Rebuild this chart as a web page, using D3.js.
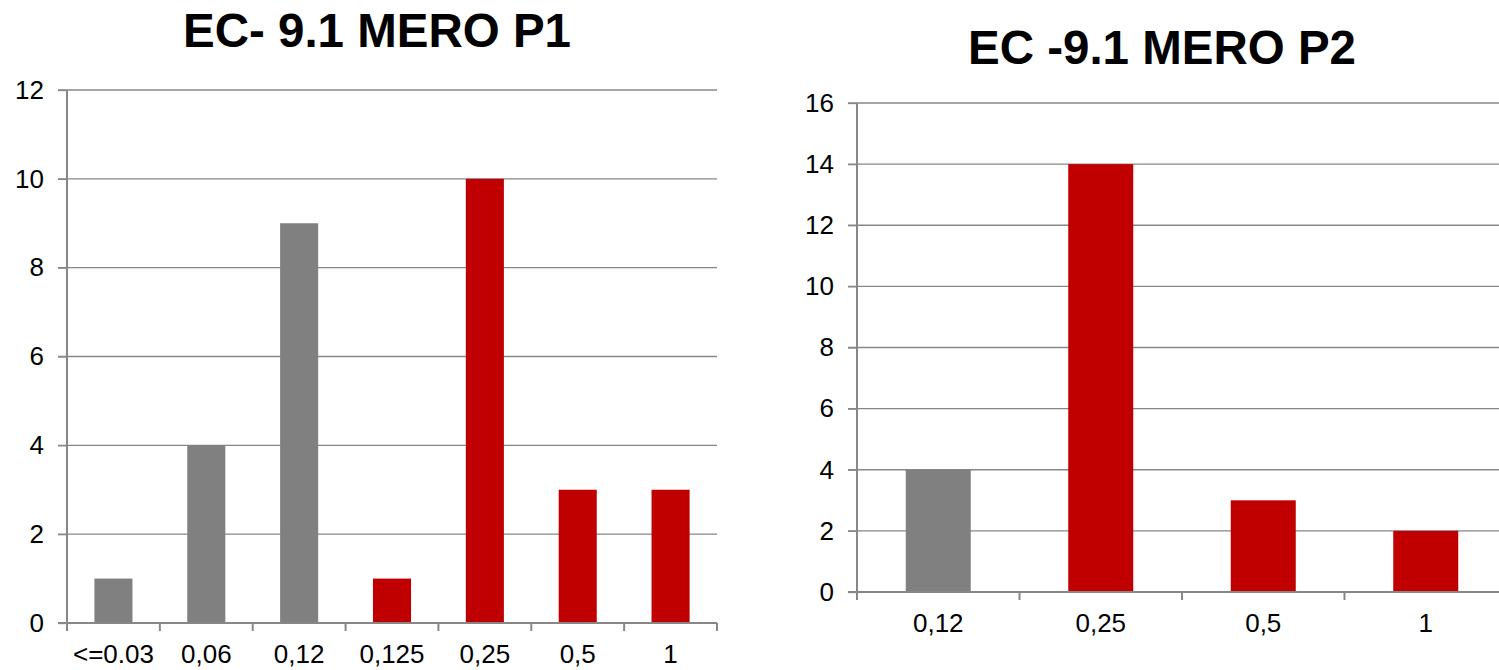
<!DOCTYPE html>
<html><head><meta charset="utf-8">
<script src="https://cdn.jsdelivr.net/npm/d3@7"></script>
<style>html,body{margin:0;padding:0;background:#fff;}svg{display:block;}</style>
</head><body>
<svg id="chart" width="1499" height="670"></svg>
<script>
// Chart 1 data
const title1 = "EC- 9.1 MERO P1";
const categories1 = ["<=0.03", "0,06", "0,12", "0,125", "0,25", "0,5", "1"];
const values1 = [1, 4, 9, 1, 10, 3, 3];
const groups1 = ["low", "low", "low", "high", "high", "high", "high"];
const yTicks1 = [0, 2, 4, 6, 8, 10, 12];

// Chart 2 data
const title2 = "EC -9.1 MERO P2";
const categories2 = ["0,12", "0,25", "0,5", "1"];
const values2 = [4, 14, 3, 2];
const groups2 = ["low", "high", "high", "high"];
const yTicks2 = [0, 2, 4, 6, 8, 10, 12, 14, 16];

const colorMap = {low: "#808080", high: "#C00000"};
const gridColor = "#878787";
const font = "Arial, 'Liberation Sans', sans-serif";
const labelSize = 26;

const svg = d3.select("#chart");

function drawChart(cfg) {
  const {x0, x1, y0, y1, cats, vals, groups, ticks, title, titleX, titleY, pad} = cfg;
  const g = svg.append("g");
  const x = d3.scaleBand().domain(cats).range([x0, x1]).paddingInner(pad).paddingOuter(pad / 2);
  const y = d3.scaleLinear().domain([0, d3.max(ticks)]).range([y1, y0]);

  // grid lines
  g.selectAll("line.grid").data(ticks.filter(t => t > 0)).enter().append("line")
    .attr("x1", x0 - 9).attr("x2", x1).attr("y1", d => y(d)).attr("y2", d => y(d))
    .attr("stroke", gridColor).attr("stroke-width", 1.3);

  // y axis
  const yAxis = d3.axisLeft(y).tickValues(ticks).tickSize(9).tickPadding(14).tickFormat(d3.format("d"));
  const ya = g.append("g").attr("transform", `translate(${x0},0)`).call(yAxis);
  ya.attr("font-size", null).attr("font-family", null);
  ya.select(".domain").attr("stroke", gridColor).attr("stroke-width", 2).attr("d", `M0,${y1}V${y0}`);
  ya.selectAll(".tick line").attr("stroke", gridColor).attr("stroke-width", 1.3);
  ya.selectAll(".tick text").attr("font-family", font).attr("font-size", labelSize).attr("fill", "#000");

  // bars
  g.selectAll("rect.bar").data(vals).enter().append("rect")
    .attr("x", (d, i) => x(cats[i])).attr("width", x.bandwidth())
    .attr("y", d => y(d)).attr("height", d => y(0) - y(d))
    .attr("fill", (d, i) => colorMap[groups[i]]);

  // x axis
  const xa = g.append("g").attr("transform", `translate(0,${y1})`)
    .call(d3.axisBottom(x).tickSize(0).tickPadding(0));
  xa.attr("font-size", null).attr("font-family", null);
  xa.select(".domain").remove();
  xa.append("line").attr("x1", x0 - 9).attr("x2", x1).attr("y1", 0).attr("y2", 0)
    .attr("stroke", gridColor).attr("stroke-width", 2);
  const bounds = cats.map(c => x(c) - x.step() * pad / 2).concat([x1]);
  xa.selectAll("line.xt").data(bounds).enter().append("line")
    .attr("x1", d => d).attr("x2", d => d).attr("y1", 0).attr("y2", 8)
    .attr("stroke", gridColor).attr("stroke-width", 2);
  xa.selectAll(".tick text").attr("font-family", font).attr("font-size", labelSize).attr("fill", "#000")
    .attr("dy", null).attr("y", 40);
  xa.selectAll(".tick line").remove();

  // title
  g.append("text").attr("x", titleX).attr("y", titleY).attr("text-anchor", "middle")
    .attr("font-family", font).attr("font-weight", "bold").attr("font-size", 47.5).attr("fill", "#000")
    .text(title);
}

drawChart({x0: 67, x1: 717, y0: 90, y1: 623, cats: categories1, vals: values1, groups: groups1,
  ticks: yTicks1, title: title1, titleX: 377, titleY: 47, pad: 0.59});
drawChart({x0: 857, x1: 1507, y0: 103, y1: 592, cats: categories2, vals: values2, groups: groups2,
  ticks: yTicks2, title: title2, titleX: 1162, titleY: 64, pad: 0.6});
</script>
</body></html>
